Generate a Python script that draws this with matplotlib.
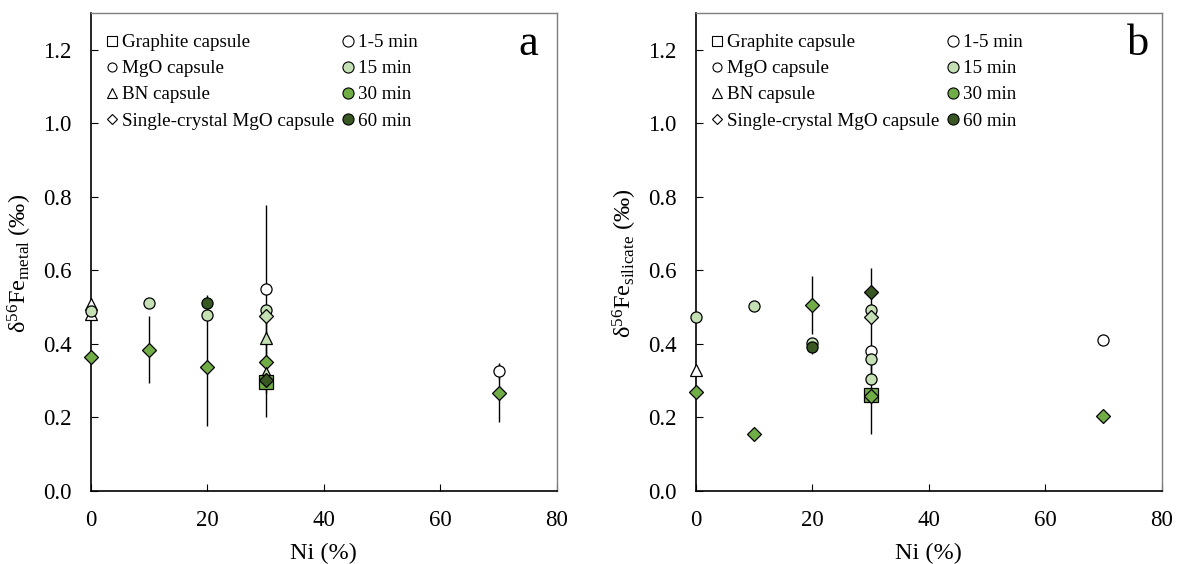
import matplotlib
matplotlib.use("Agg")
import matplotlib.pyplot as plt
from matplotlib.lines import Line2D

plt.rcParams['font.family'] = ['Liberation Serif', 'DejaVu Serif']
plt.rcParams['mathtext.fontset'] = 'custom'
plt.rcParams['mathtext.rm'] = 'Liberation Serif'
plt.rcParams['mathtext.it'] = 'Liberation Serif:italic'

# --- metal data (panel a) ---
metal_ni = [0, 0, 0, 0, 10, 10, 20, 20, 20, 30, 30, 30, 30, 30, 30, 30, 30, 70, 70]
metal_d56 = [0.509, 0.482, 0.490, 0.365, 0.512, 0.384, 0.511, 0.480, 0.336,
             0.550, 0.493, 0.477, 0.416, 0.352, 0.322, 0.296, 0.302, 0.326, 0.267]
metal_err = [0.0, 0.0, 0.0, 0.0, 0.0, 0.091, 0.023, 0.0, 0.159,
             0.229, 0.0, 0.0, 0.0, 0.152, 0.0, 0.03, 0.0, 0.021, 0.079]
metal_capsule = ['BN', 'BN', 'MgO', 'SC', 'MgO', 'SC', 'MgO', 'MgO', 'SC',
                 'MgO', 'MgO', 'SC', 'BN', 'SC', 'BN', 'Graphite', 'SC', 'MgO', 'SC']
metal_time = ['1-5', '1-5', '15', '30', '15', '30', '60', '15', '30',
              '1-5', '15', '15', '15', '30', '15', '30', '60', '1-5', '30']

# --- silicate data (panel b) ---
sil_ni = [0, 0, 0, 10, 10, 20, 20, 20, 30, 30, 30, 30, 30, 30, 30, 30, 70, 70]
sil_d56 = [0.473, 0.329, 0.270, 0.502, 0.155, 0.507, 0.403, 0.392,
           0.541, 0.492, 0.474, 0.381, 0.360, 0.304, 0.261, 0.259, 0.410, 0.205]
sil_err = [0.0, 0.0, 0.0, 0.0, 0.0, 0.079, 0.0, 0.02,
           0.065, 0.0, 0.0, 0.08, 0.0, 0.0, 0.106, 0.0, 0.0, 0.0]
sil_capsule = ['MgO', 'BN', 'SC', 'MgO', 'SC', 'SC', 'MgO', 'MgO',
               'SC', 'MgO', 'SC', 'MgO', 'MgO', 'MgO', 'Graphite', 'SC', 'MgO', 'SC']
sil_time = ['15', '1-5', '30', '15', '30', '30', '15', '60',
            '60', '15', '15', '1-5', '15', '15', '30', '30', '1-5', '30']

capsule_names = ['Graphite', 'MgO', 'BN', 'SC']
capsule_labels = ['Graphite capsule', 'MgO capsule', 'BN capsule', 'Single-crystal MgO capsule']
time_names = ['1-5', '15', '30', '60']
time_labels = ['1-5 min', '15 min', '30 min', '60 min']

markers = {'Graphite': 's', 'MgO': 'o', 'BN': '^', 'SC': 'D'}
msizes = {'Graphite': 10.5, 'MgO': 8, 'BN': 9, 'SC': 7.5}
colors = {'1-5': '#ffffff', '15': '#c5e0b4', '30': '#70ad47', '60': '#385723'}


def draw_panel(ax, x, y, err, caps, times, ylabel, letter, letter_x):
    ax.errorbar(x, y, yerr=err, fmt='none', ecolor='black', elinewidth=1.0,
                capsize=0, zorder=2)
    for xi, yi, c, t in zip(x, y, caps, times):
        ax.plot(xi, yi, linestyle='none', marker=markers[c], ms=msizes[c],
                mfc=colors[t], mec='black', mew=0.9, zorder=3, clip_on=False)

    ax.set_xlim(0, 80)
    ax.set_ylim(0, 1.3)
    ax.set_xticks([0, 20, 40, 60, 80])
    ax.set_yticks([0.0, 0.2, 0.4, 0.6, 0.8, 1.0, 1.2])
    ax.set_yticklabels(['0.0', '0.2', '0.4', '0.6', '0.8', '1.0', '1.2'])
    ax.tick_params(direction='in', length=5, width=0.8, labelsize=16.5)
    ax.tick_params(axis='y', pad=14)
    ax.tick_params(axis='x', pad=14)
    ax.set_xlabel('Ni (%)', fontsize=17.5, labelpad=8)
    ax.set_ylabel(ylabel, fontsize=17.5)
    ax.yaxis.set_label_coords(-0.122, 0.477)
    for side in ['top', 'right']:
        ax.spines[side].set_color('#7f7f7f')
        ax.spines[side].set_linewidth(1.0)
    for side in ['left', 'bottom']:
        ax.spines[side].set_color('black')
        ax.spines[side].set_linewidth(1.2)

    ax.text(letter_x, 0.912, letter, transform=ax.transAxes, fontsize=32,
            ha='right', va='baseline')

    # legend: capsule shapes in the first column, run durations in the second
    handles = []
    for c in capsule_names:
        handles.append(Line2D([], [], linestyle='none', marker=markers[c],
                              ms=6.5 if c != 'SC' else 5.5, mfc='white',
                              mec='black', mew=0.8))
    for t in time_names:
        handles.append(Line2D([], [], linestyle='none', marker='o', ms=8,
                              mfc=colors[t], mec='black', mew=0.8))
    ax.legend(handles, capsule_labels + time_labels, ncol=2, loc='upper left',
              bbox_to_anchor=(0.02, 0.968), frameon=False, fontsize=13.7,
              handlelength=0.6, handletextpad=0.22, columnspacing=0.45,
              labelspacing=0.46, borderpad=0.3, borderaxespad=0)


fig = plt.figure(figsize=(11.82, 5.64), dpi=100)
ax_a = fig.add_axes([0.077, 0.1294, 0.394, 0.8475])
ax_b = fig.add_axes([0.5888, 0.1294, 0.394, 0.8475])

draw_panel(ax_a, metal_ni, metal_d56, metal_err, metal_capsule, metal_time,
           r'δ$^{56}$Fe$_{\mathrm{metal}}$ (‰)', 'a', 0.959)
draw_panel(ax_b, sil_ni, sil_d56, sil_err, sil_capsule, sil_time,
           r'δ$^{56}$Fe$_{\mathrm{silicate}}$ (‰)', 'b', 0.974)

plt.savefig('out.png', dpi=100)
